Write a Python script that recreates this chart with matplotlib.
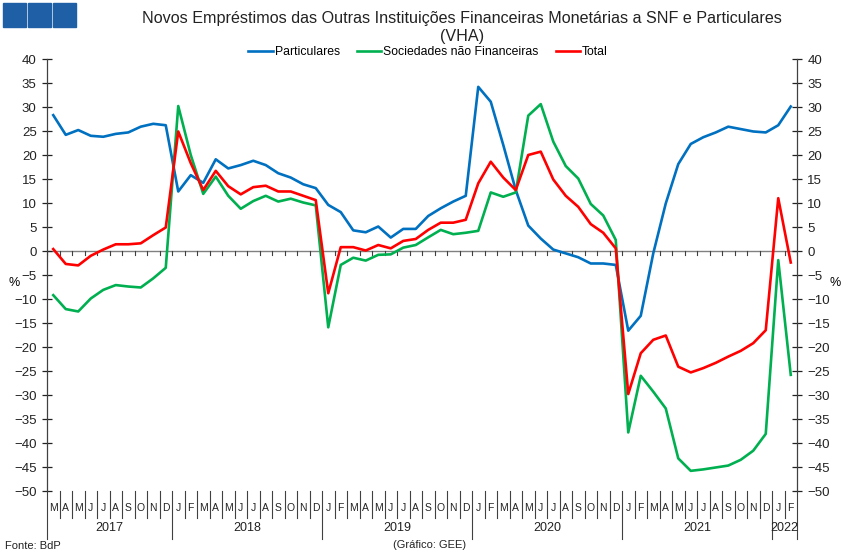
import matplotlib
matplotlib.use("Agg")
import matplotlib.pyplot as plt
from matplotlib.lines import Line2D
from matplotlib.patches import Rectangle
import matplotlib.transforms as mtransforms

plt.rcParams["font.family"] = ["Liberation Sans", "DejaVu Sans"]

# ---------------------------------------------------------------------------
# Data (Mar 2017 - Feb 2022, VHA %)
# ---------------------------------------------------------------------------

months = (["M", "A", "M", "J", "J", "A", "S", "O", "N", "D"]
          + ["J", "F", "M", "A", "M", "J", "J", "A", "S", "O", "N", "D"] * 4
          + ["J", "F"])
years = ["2017", "2018", "2019", "2020", "2021", "2022"]
year_counts = [10, 12, 12, 12, 12, 2]

particulares = [28.3, 24.2, 25.2, 24.0, 23.8, 24.4, 24.7, 25.9, 26.5, 26.2,
                12.4, 15.8, 14.2, 19.1, 17.2, 17.9, 18.8, 17.9, 16.2, 15.3, 13.9, 13.1,
                9.6, 8.1, 4.3, 3.9, 5.1, 2.8, 4.6, 4.6, 7.3, 8.9, 10.3, 11.5,
                34.2, 31.1, 22.1, 12.7, 5.3, 2.6, 0.3, -0.5, -1.3, -2.6, -2.6, -2.9,
                -16.6, -13.5, -0.5, 9.9, 18.1, 22.3, 23.7, 24.7, 25.9, 25.4, 24.9, 24.7,
                26.2, 30.1]

sociedades = [-9.2, -12.1, -12.6, -9.9, -8.1, -7.1, -7.4, -7.6, -5.7, -3.5,
              30.2, 20.0, 11.9, 15.5, 11.5, 8.8, 10.4, 11.5, 10.3, 10.9, 10.1, 9.5,
              -15.9, -2.9, -1.4, -2.0, -0.8, -0.7, 0.7, 1.25, 2.85, 4.4, 3.5, 3.8,
              4.2, 12.2, 11.3, 12.2, 28.2, 30.6, 22.8, 17.7, 15.1, 9.8, 7.4, 2.3,
              -37.8, -26.0, -29.3, -32.8, -43.2, -45.8, -45.5, -45.1, -44.7, -43.5, -41.6, -38.1,
              -1.9, -25.8]

total = [0.4, -2.7, -3.0, -1.0, 0.3, 1.4, 1.4, 1.6, 3.3, 4.9,
         24.9, 18.3, 12.7, 16.7, 13.5, 11.8, 13.3, 13.6, 12.4, 12.4, 11.5, 10.6,
         -8.8, 0.8, 0.8, 0.1, 1.25, 0.55, 2.1, 2.5, 4.4, 5.9, 5.9, 6.5,
         14.1, 18.6, 15.3, 12.7, 20.0, 20.7, 14.9, 11.5, 9.2, 5.6, 3.8, 0.55,
         -29.8, -21.3, -18.5, -17.6, -24.1, -25.3, -24.4, -23.3, -22.0, -20.8, -19.2, -16.5,
         11.0, -2.4]

series = [
    ("Particulares", particulares, "#0070C0"),
    ("Sociedades não Financeiras", sociedades, "#00B050"),
    ("Total", total, "#FF0000"),
]

# ---------------------------------------------------------------------------
# Figure
# ---------------------------------------------------------------------------

fig = plt.figure(figsize=(8.5, 5.57), dpi=100)
ax = fig.add_axes([47 / 850, 1 - 491 / 557, 750 / 850, 432 / 557])

x = list(range(len(months)))
handles = []
for name, vals, color in series:
    h, = ax.plot(x, vals, color=color, lw=1.9, label=name)
    handles.append(h)

ax.set_xlim(-0.5, len(months) - 0.5)
ax.set_ylim(-50, 40)
ax.set_yticks(range(-50, 41, 5))

# zero line with month ticks
ax.axhline(0, color="#808080", lw=1.0, zorder=1)
for i in range(len(months) + 1):
    ax.plot([i - 0.5, i - 0.5], [0, -0.9], color="#404040", lw=0.8, zorder=1)

for s in ["top", "bottom"]:
    ax.spines[s].set_visible(False)
for s in ["left", "right"]:
    ax.spines[s].set_color("#404040")
    ax.spines[s].set_linewidth(0.9)

ax.tick_params(axis="y", which="both", direction="inout", length=7, width=0.9,
               labelsize=9.5, left=True, right=True, labelleft=True, labelright=True,
               pad=4, colors="#222222")
ax.tick_params(axis="x", bottom=False, labelbottom=False)
ax.set_xticks([])

# category axis: months and years
trans = mtransforms.blended_transform_factory(ax.transData, ax.transAxes)
for i, m in enumerate(months):
    ax.text(i, -0.039, m, transform=trans, ha="center", va="center",
            fontsize=7.5, color="#222222", clip_on=False)

boundaries = [0]
for c in year_counts:
    boundaries.append(boundaries[-1] + c)
for i in range(len(months) + 1):
    if i in boundaries:
        y0 = -0.11
    else:
        y0 = -0.062
    ax.add_line(Line2D([i - 0.5, i - 0.5], [0, y0], transform=trans,
                       color="#404040", lw=0.8, clip_on=False))
for k, yr in enumerate(years):
    mid = (boundaries[k] + boundaries[k + 1]) / 2 - 0.5
    ax.text(mid, -0.085, yr, transform=trans, ha="center", va="center",
            fontsize=9, color="#222222", clip_on=False)

# % labels
fig.text(14 / 850, 1 - 283 / 557, "%", ha="center", va="center", fontsize=9)
fig.text(835 / 850, 1 - 283 / 557, "%", ha="center", va="center", fontsize=9)

# title and legend
fig.text(462 / 850, 1 - 18 / 557, "Novos Empréstimos das Outras Instituições Financeiras Monetárias a SNF e Particulares",
         ha="center", va="center", fontsize=11.6, color="#222222")
fig.text(462 / 850, 1 - 37 / 557, "(VHA)", ha="center", va="center", fontsize=11.6, color="#222222")

fig.legend(handles=handles, loc="center", bbox_to_anchor=(428 / 850, 1 - 52 / 557),
           ncol=3, frameon=False, fontsize=8.8, handlelength=2.0, handletextpad=0.15,
           columnspacing=1.4, borderpad=0)

# logo squares
for k in range(3):
    fig.patches.append(Rectangle(((3 + 25 * k) / 850, 1 - 27 / 557), 23 / 850, 24 / 557,
                                 transform=fig.transFigure, color="#1F5FA6"))

fig.text(5 / 850, 1 - 546 / 557, "Fonte: BdP", ha="left", va="center", fontsize=8, color="#222222")
fig.text(430 / 850, 1 - 545 / 557, "(Gráfico: GEE)", ha="center", va="center", fontsize=8, color="#222222")

fig.savefig("out.png", dpi=100)
